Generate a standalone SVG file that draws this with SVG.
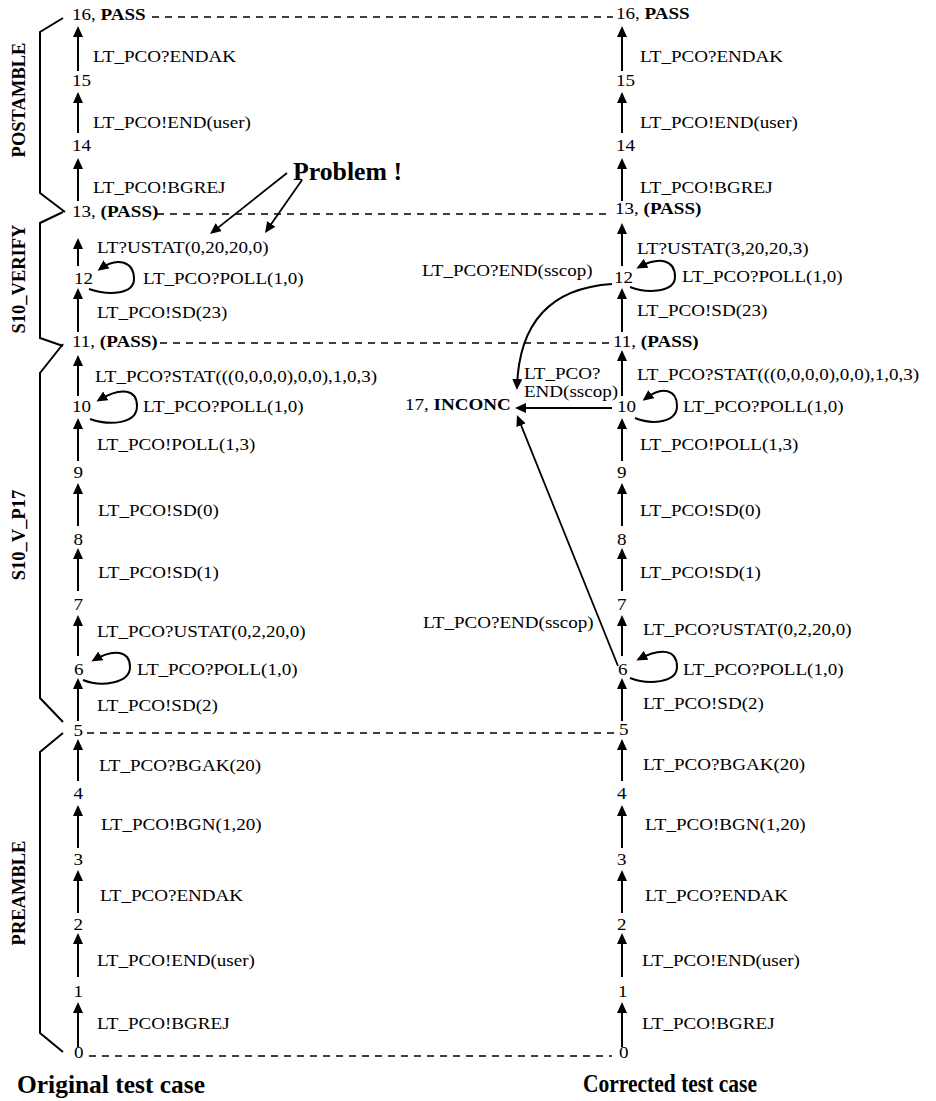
<svg xmlns="http://www.w3.org/2000/svg" width="936" height="1101" viewBox="0 0 936 1101">
<style>
.t{font-family:"Liberation Serif","Times New Roman",serif;font-size:16px;fill:#000;transform-box:fill-box;transform-origin:0 0;transform:scale(1.19,1)}
.b{font-weight:bold}
.big{font-family:"Liberation Serif","Times New Roman",serif;font-weight:bold;font-size:25px;fill:#000}
.brk{font-family:"Liberation Serif","Times New Roman",serif;font-weight:bold;font-size:18.5px;text-anchor:middle;fill:#000}
.arr{stroke:#000;stroke-width:2;fill:none;marker-end:url(#ah)}
.arr2{stroke:#000;stroke-width:1.8;fill:none;marker-end:url(#ah)}
.dash{stroke:#000;stroke-width:1.3;stroke-dasharray:7 6;fill:none}
.br{stroke:#000;stroke-width:2;fill:none;stroke-linejoin:miter}
</style>
<defs>
<marker id="ah" markerUnits="userSpaceOnUse" markerWidth="12" markerHeight="10" refX="8" refY="5" orient="auto">
<path d="M0,0 L11,5 L0,10 z" fill="#000"/>
</marker>
</defs>
<rect width="936" height="1101" fill="#fff"/>

<!-- brackets and phase labels -->
<g id="phases">
<polyline class="br" points="63,18 40,32 40,193 65,212"/>
<polyline class="br" points="63,212 40,223 40,338 63,346"/>
<polyline class="br" points="63,344 40,373 40,698 63,722"/>
<polyline class="br" points="63,733 40,752 40,1033 63,1052"/>
<text class="brk" transform="translate(25,100) rotate(-90)">POSTAMBLE</text>
<text class="brk" transform="translate(25,279) rotate(-90)">S10_VERIFY</text>
<text class="brk" transform="translate(25,535) rotate(-90)">S10_V_P17</text>
<text class="brk" transform="translate(25,893) rotate(-90)">PREAMBLE</text>
</g>

<!-- left column nodes -->
<g id="L16"><text class="t" x="72" y="20">16, <tspan class="b">PASS</tspan></text></g>
<g id="L15"><text class="t" x="72" y="86">15</text></g>
<g id="L14"><text class="t" x="72" y="151">14</text></g>
<g id="L13"><text class="t" x="72" y="217">13, <tspan class="b">(PASS)</tspan></text></g>
<g id="L12"><text class="t" x="74" y="284">12</text></g>
<g id="L11"><text class="t" x="72" y="347">11, <tspan class="b">(PASS)</tspan></text></g>
<g id="L10"><text class="t" x="72" y="412">10</text></g>
<g id="L9"><text class="t" x="73.5" y="478">9</text></g>
<g id="L8"><text class="t" x="73.5" y="545">8</text></g>
<g id="L7"><text class="t" x="73.5" y="610">7</text></g>
<g id="L6"><text class="t" x="74" y="675">6</text></g>
<g id="L5"><text class="t" x="73.5" y="736">5</text></g>
<g id="L4"><text class="t" x="73.5" y="799">4</text></g>
<g id="L3"><text class="t" x="73.5" y="865">3</text></g>
<g id="L2"><text class="t" x="73.5" y="930">2</text></g>
<g id="L1"><text class="t" x="73.5" y="997">1</text></g>
<g id="L0"><text class="t" x="74" y="1058">0</text></g>

<!-- right column nodes -->
<g id="R16"><text class="t" x="616" y="19">16, <tspan class="b">PASS</tspan></text></g>
<g id="R15"><text class="t" x="616" y="86">15</text></g>
<g id="R14"><text class="t" x="616" y="151">14</text></g>
<g id="R13"><text class="t" x="615" y="214">13, <tspan class="b">(PASS)</tspan></text></g>
<g id="R12"><text class="t" x="614" y="283">12</text></g>
<g id="R11"><text class="t" x="613" y="347">11, <tspan class="b">(PASS)</tspan></text></g>
<g id="R10"><text class="t" x="617" y="412">10</text></g>
<g id="R9"><text class="t" x="617" y="478">9</text></g>
<g id="R8"><text class="t" x="617" y="545">8</text></g>
<g id="R7"><text class="t" x="617" y="610">7</text></g>
<g id="R6"><text class="t" x="618" y="675">6</text></g>
<g id="R5"><text class="t" x="619" y="735">5</text></g>
<g id="R4"><text class="t" x="617" y="799">4</text></g>
<g id="R3"><text class="t" x="617" y="865">3</text></g>
<g id="R2"><text class="t" x="617" y="930">2</text></g>
<g id="R1"><text class="t" x="618" y="997">1</text></g>
<g id="R0"><text class="t" x="619" y="1058">0</text></g>
<g id="R17"><text class="t" x="405" y="410">17, <tspan class="b">INCONC</tspan></text></g>

<!-- connectors -->
<g id="connectors">
<!-- dashed level lines -->
<line class="dash" x1="152" y1="17" x2="613" y2="17"/>
<line class="dash" x1="157" y1="214" x2="611" y2="214"/>
<line class="dash" x1="160" y1="343" x2="610" y2="343"/>
<line class="dash" x1="87" y1="733" x2="614" y2="733"/>
<line class="dash" x1="89" y1="1056" x2="612" y2="1056"/>

<!-- left vertical arrows -->
<line class="arr" x1="78" y1="71" x2="78" y2="29"/>
<line class="arr" x1="78" y1="133" x2="78" y2="95"/>
<line class="arr" x1="78" y1="201" x2="78" y2="161"/>
<line class="arr" x1="78" y1="266" x2="78" y2="241"/>
<line class="arr" x1="78" y1="332" x2="78" y2="291"/>
<line class="arr" x1="78" y1="396" x2="78" y2="358"/>
<line class="arr" x1="78" y1="461" x2="78" y2="421"/>
<line class="arr" x1="78" y1="526" x2="78" y2="486"/>
<line class="arr" x1="78" y1="591" x2="78" y2="551"/>
<line class="arr" x1="78" y1="656" x2="78" y2="618"/>
<line class="arr" x1="78" y1="721" x2="78" y2="681"/>
<line class="arr" x1="78" y1="781" x2="78" y2="742"/>
<line class="arr" x1="78" y1="848" x2="78" y2="808"/>
<line class="arr" x1="78" y1="913" x2="78" y2="873"/>
<line class="arr" x1="78" y1="977" x2="78" y2="936"/>
<line class="arr" x1="78" y1="1047" x2="78" y2="1005"/>

<!-- right vertical arrows -->
<line class="arr" x1="622" y1="71" x2="622" y2="29"/>
<line class="arr" x1="622" y1="133" x2="622" y2="95"/>
<line class="arr" x1="622" y1="201" x2="622" y2="161"/>
<line class="arr" x1="622" y1="266" x2="622" y2="226"/>
<line class="arr" x1="622" y1="332" x2="622" y2="291"/>
<line class="arr" x1="622" y1="396" x2="622" y2="353"/>
<line class="arr" x1="622" y1="461" x2="622" y2="421"/>
<line class="arr" x1="622" y1="526" x2="622" y2="486"/>
<line class="arr" x1="622" y1="591" x2="622" y2="551"/>
<line class="arr" x1="622" y1="656" x2="622" y2="618"/>
<line class="arr" x1="622" y1="721" x2="622" y2="681"/>
<line class="arr" x1="622" y1="781" x2="622" y2="742"/>
<line class="arr" x1="622" y1="848" x2="622" y2="808"/>
<line class="arr" x1="622" y1="913" x2="622" y2="873"/>
<line class="arr" x1="622" y1="977" x2="622" y2="936"/>
<line class="arr" x1="622" y1="1047" x2="622" y2="1005"/>

<!-- self loops -->
<path class="arr" d="M89,289 C110,296 134,294 134,279 C134,262 118,256 100,269"/>
<path class="arr" d="M90,419 C110,426 137,424 137,406 C137,390 122,386 99,400"/>
<path class="arr" d="M83,680 C100,687 130,684 130,667 C130,651 114,648 94,660"/>
<path class="arr" d="M630,287 C648,294 675,292 675,277 C675,260 660,256 639,267"/>
<path class="arr" d="M635,418 C652,425 677,423 677,406 C677,390 663,385 645,399"/>
<path class="arr" d="M630,678 C648,685 677,683 677,667 C677,650 662,647 639,659"/>

<!-- transitions to INCONC -->
<path class="arr" d="M612,284 Q520,290 517,387"/>
<line class="arr" x1="612" y1="408" x2="518" y2="408"/>
<line class="arr2" x1="618" y1="666" x2="518.1" y2="417.8"/>

<!-- Problem pointers -->
<line class="arr2" x1="287" y1="173" x2="212.4" y2="232.1"/>
<line class="arr2" x1="302" y1="180" x2="266.7" y2="230.5"/>

<!-- left edge labels -->
<text class="t" x="93" y="62">LT_PCO?ENDAK</text>
<text class="t" x="93" y="128">LT_PCO!END(user)</text>
<text class="t" x="93" y="193">LT_PCO!BGREJ</text>
<text class="t" x="97" y="253">LT?USTAT(0,20,20,0)</text>
<text class="t" x="143" y="284">LT_PCO?POLL(1,0)</text>
<text class="t" x="97" y="318">LT_PCO!SD(23)</text>
<text class="t" x="95" y="382">LT_PCO?STAT(((0,0,0,0),0,0),1,0,3)</text>
<text class="t" x="143" y="412">LT_PCO?POLL(1,0)</text>
<text class="t" x="97" y="450">LT_PCO!POLL(1,3)</text>
<text class="t" x="98" y="516">LT_PCO!SD(0)</text>
<text class="t" x="98" y="578">LT_PCO!SD(1)</text>
<text class="t" x="97" y="637">LT_PCO?USTAT(0,2,20,0)</text>
<text class="t" x="137" y="675">LT_PCO?POLL(1,0)</text>
<text class="t" x="97" y="711">LT_PCO!SD(2)</text>
<text class="t" x="99" y="771">LT_PCO?BGAK(20)</text>
<text class="t" x="101" y="830">LT_PCO!BGN(1,20)</text>
<text class="t" x="100" y="901">LT_PCO?ENDAK</text>
<text class="t" x="97" y="966">LT_PCO!END(user)</text>
<text class="t" x="97" y="1029">LT_PCO!BGREJ</text>

<!-- right edge labels -->
<text class="t" x="640" y="62">LT_PCO?ENDAK</text>
<text class="t" x="640" y="128">LT_PCO!END(user)</text>
<text class="t" x="640" y="193">LT_PCO!BGREJ</text>
<text class="t" x="637" y="254">LT?USTAT(3,20,20,3)</text>
<text class="t" x="682" y="282">LT_PCO?POLL(1,0)</text>
<text class="t" x="637" y="316">LT_PCO!SD(23)</text>
<text class="t" x="637" y="380">LT_PCO?STAT(((0,0,0,0),0,0),1,0,3)</text>
<text class="t" x="683" y="412">LT_PCO?POLL(1,0)</text>
<text class="t" x="640" y="450">LT_PCO!POLL(1,3)</text>
<text class="t" x="640" y="516">LT_PCO!SD(0)</text>
<text class="t" x="640" y="578">LT_PCO!SD(1)</text>
<text class="t" x="643" y="635">LT_PCO?USTAT(0,2,20,0)</text>
<text class="t" x="683" y="675">LT_PCO?POLL(1,0)</text>
<text class="t" x="643" y="709">LT_PCO!SD(2)</text>
<text class="t" x="643" y="770">LT_PCO?BGAK(20)</text>
<text class="t" x="645" y="830">LT_PCO!BGN(1,20)</text>
<text class="t" x="645" y="901">LT_PCO?ENDAK</text>
<text class="t" x="642" y="966">LT_PCO!END(user)</text>
<text class="t" x="642" y="1029">LT_PCO!BGREJ</text>

<!-- INCONC transition labels -->
<text class="t" x="422" y="276">LT_PCO?END(sscop)</text>
<text class="t" x="524" y="379">LT_PCO?</text>
<text class="t" x="524" y="397">END(sscop)</text>
<text class="t" x="423" y="628">LT_PCO?END(sscop)</text>
</g>

<!-- annotations -->
<g id="annotations">
<text class="big" x="293" y="180" textLength="109" lengthAdjust="spacingAndGlyphs">Problem !</text>
<text class="big" x="17" y="1093" textLength="188" lengthAdjust="spacingAndGlyphs">Original test case</text>
<text class="big" x="583" y="1092" font-size="23" textLength="174" lengthAdjust="spacingAndGlyphs">Corrected test case</text>
</g>
</svg>
